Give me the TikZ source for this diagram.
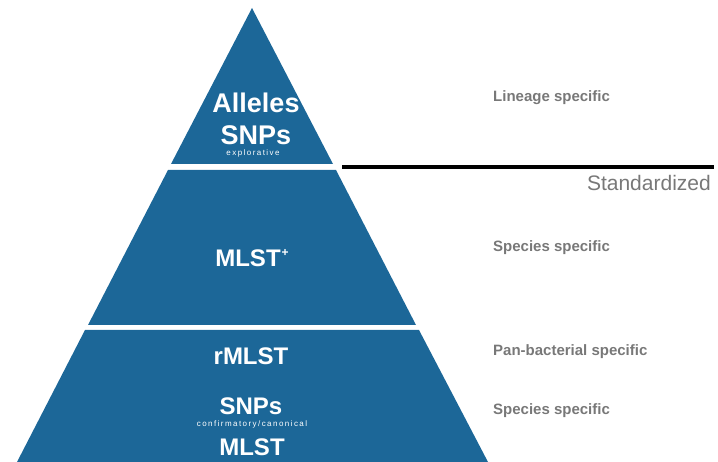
\documentclass[tikz,border=0pt]{standalone}
\usepackage{fontspec}
\setmainfont{Liberation Sans}
\newfontfamily\spacedfont[LetterSpace=18]{Liberation Sans}
\usetikzlibrary{positioning}
\definecolor{pyrblue}{RGB}{28,103,152}
\definecolor{labelgray}{RGB}{120,120,120}
\begin{document}
\begin{tikzpicture}[x=1pt,y=-1pt]
		\tikzset{
			tier/.style={fill=pyrblue,draw=none},
		}
		\tikzset{
			bigtext/.style={text=white,font=\fontsize{27}{27}\selectfont\bfseries,inner sep=0pt},
			midtext/.style={text=white,font=\fontsize{24}{24}\selectfont\bfseries,inner sep=0pt},
			smalltext/.style={text=white,font=\fontsize{8}{8}\selectfont\spacedfont,inner sep=0pt},
			sidetext/.style={text=labelgray,font=\fontsize{15}{15}\selectfont\bfseries,inner sep=0pt,anchor=west},
		}
		\newcommand{\lx}{493}
		
		\useasboundingbox (0,0) rectangle (718,462);
		
		\fill[tier] (252,8) -- (333,164) -- (171,164) -- cycle;
		\fill[tier] (168,170) -- (336,170) -- (416,325) -- (88,325) -- cycle;
		\fill[tier] (85,330) -- (419,330) -- (488,462) -- (17,462) -- cycle;
		
		\node[bigtext] (alleles) at (256,103) {Alleles};
		\node[bigtext] (snpstop) at (256,135) {SNPs};
		\node[smalltext] (explorative) at (253,153) {explorative};
		
		\node[midtext] (mlstplus) at (252,258) {MLST\kern1pt\raisebox{0.42em}{\fontsize{12}{12}\selectfont+}};
		
		\node[midtext] (rmlst) at (251,356) {rMLST};
		\node[midtext] (snpsbottom) at (251,406) {SNPs};
		\node[smalltext] (confirmatory) at (252,424) {confirmatory/canonical};
		\node[midtext] (mlst) at (252,447) {MLST};
		
		\coordinate (linestart) at (342,167);
		\coordinate (lineend) at (714,167);
		\draw[line width=4pt,black] (linestart) -- (lineend);
		\node[text=labelgray,font=\fontsize{21}{21}\selectfont,inner sep=0pt,anchor=east] (standardized) at (711,183) {Standardized};
		
		\node[sidetext] (lineage) at (\lx,98) {Lineage specific};
		\node[sidetext] (speciesmid) at (\lx,248) {Species specific};
		\node[sidetext] (panbact) at (\lx,352) {Pan-bacterial specific};
		\node[sidetext] (speciesbottom) at (\lx,411) {Species specific};
	\end{tikzpicture}
\end{document}
